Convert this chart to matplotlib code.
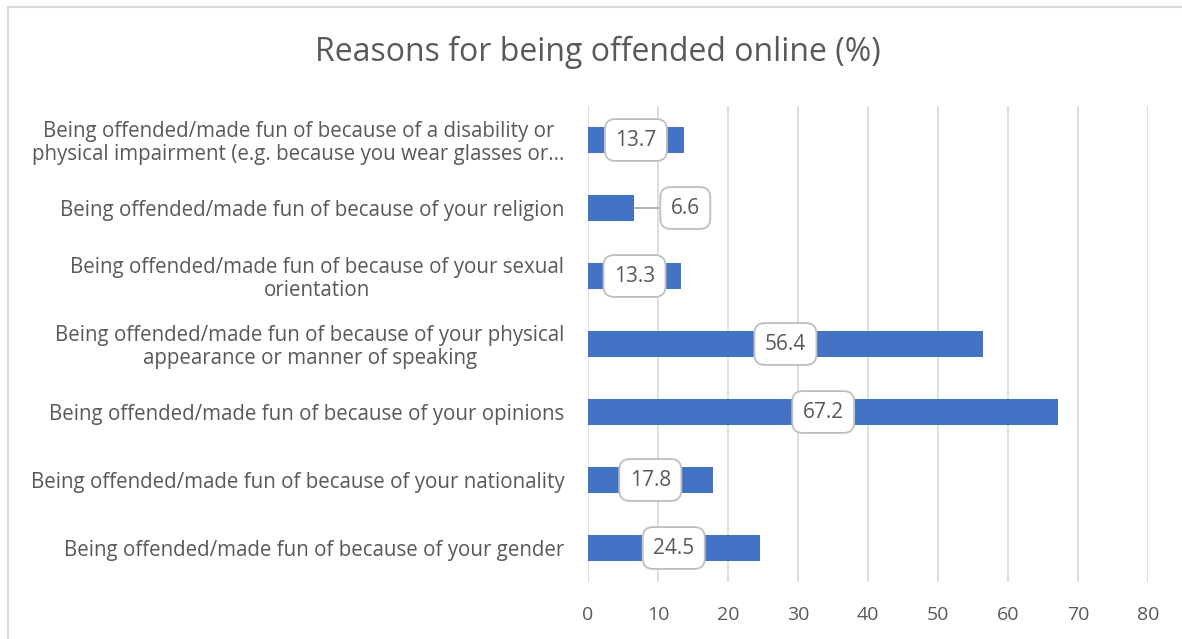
import matplotlib.pyplot as plt
from matplotlib.patches import Rectangle

# survey results, top to bottom as shown
categories = [
    "Being offended/made fun of because of a disability or\nphysical impairment (e.g. because you wear glasses or...",
    "Being offended/made fun of because of your religion",
    "Being offended/made fun of because of your sexual\norientation",
    "Being offended/made fun of because of your physical\nappearance or manner of speaking",
    "Being offended/made fun of because of your opinions",
    "Being offended/made fun of because of your nationality",
    "Being offended/made fun of because of your gender",
]
values = [13.7, 6.6, 13.3, 56.4, 67.2, 17.8, 24.5]
xticks = [0, 10, 20, 30, 40, 50, 60, 70, 80]

grey = "#595959"
plt.rcParams["font.family"] = ["Open Sans", "DejaVu Sans"]

fig = plt.figure(figsize=(11.82, 6.39), dpi=100)
ax = fig.add_axes([588 / 1182, 1 - 582 / 639, 560 / 1182, 476 / 639])

# chart area border
fig.patches.append(Rectangle((8 / 1182, -0.1), 1.2, 1 - 7 / 639 + 0.1,
                             transform=fig.transFigure, fill=False,
                             edgecolor="#D9D9D9", linewidth=1.5))

ypos = list(range(len(categories)))[::-1]
ax.barh(ypos, values, height=0.385, color="#4472C4", zorder=3)

ax.set_xlim(0, 80)
ax.set_ylim(-0.5, len(categories) - 0.5)
ax.set_xticks(xticks)
ax.set_xticklabels([str(t) for t in xticks], fontsize=14, color=grey)
ax.set_yticks(ypos)
ax.set_yticklabels(categories, fontsize=14.8, color=grey, multialignment="center",
                   linespacing=1.1)
ax.tick_params(axis="y", length=0, pad=17)
ax.tick_params(axis="x", length=0, pad=17)
ax.grid(axis="x", color="#D9D9D9", linewidth=1.2, zorder=0)
for s in ax.spines.values():
    s.set_visible(False)

box = dict(boxstyle="round,pad=0.5,rounding_size=0.5", fc="white", ec="#BFBFBF", lw=1.3)
for y, v in zip(ypos, values):
    if v < 10:
        # small bar: label pushed outside with a leader line
        ax.annotate(f"{v}", xy=(v, y), xytext=(v + 7.3, y), ha="center", va="center",
                    fontsize=15, color=grey, bbox=box, zorder=5,
                    arrowprops=dict(arrowstyle="-", color="#A6A6A6", lw=1.2,
                                    shrinkA=0, shrinkB=0))
    else:
        ax.text(v / 2, y, f"{v}", ha="center", va="center", fontsize=15,
                color=grey, bbox=box, zorder=5)

fig.text(598 / 1182, 1 - 52 / 639, "Reasons for being offended online (%)",
         ha="center", va="center", fontsize=23, color=grey)

fig.savefig("out.png", dpi=100)
